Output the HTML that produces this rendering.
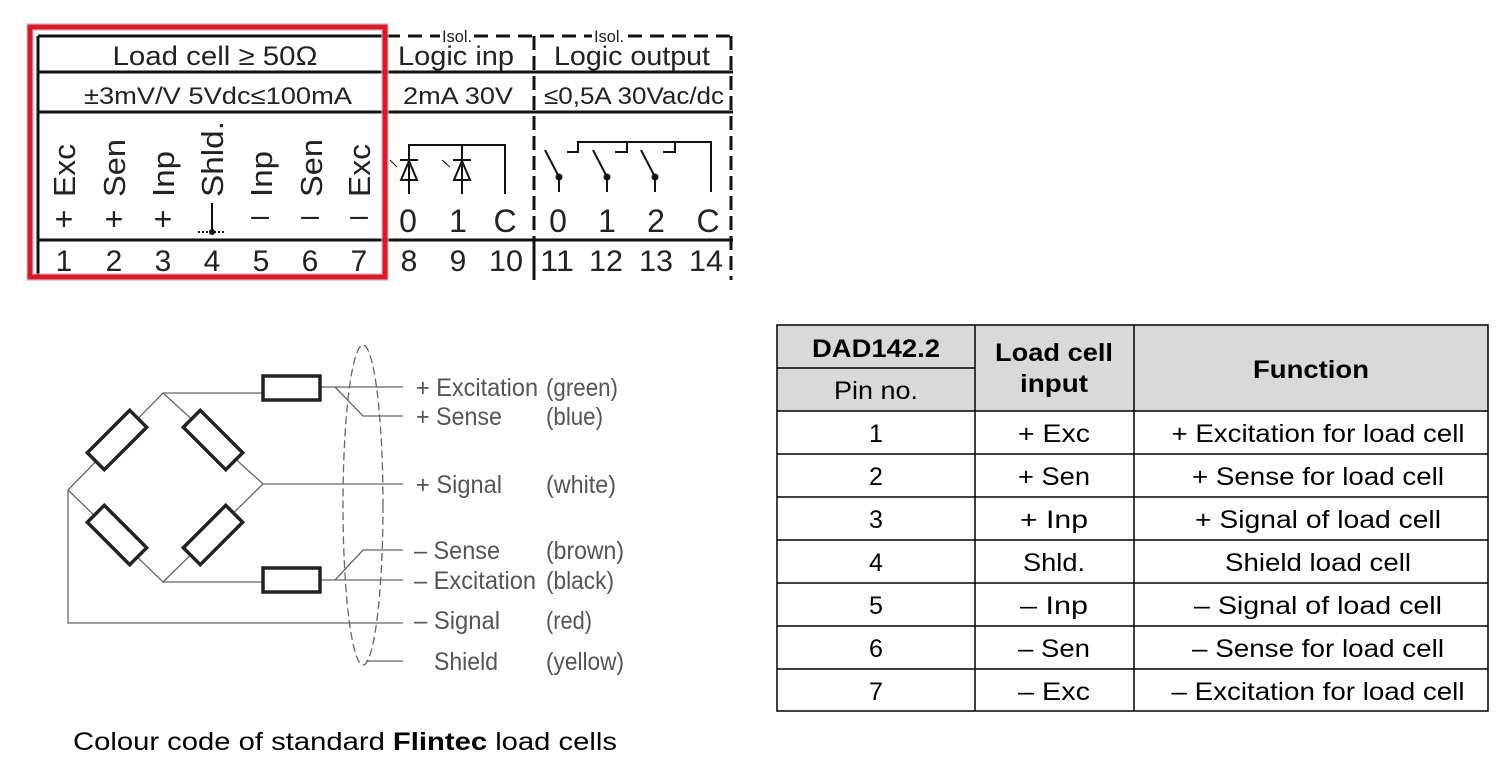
<!DOCTYPE html>
<html><head><meta charset="utf-8"><style>
html,body{margin:0;padding:0;background:#fff;}
svg{display:block}
</style></head><body>
<svg width="1502" height="763" viewBox="0 0 1502 763" xmlns="http://www.w3.org/2000/svg" font-family="Liberation Sans, sans-serif">
<!-- Terminal block -->
<g stroke="#111" fill="none">
  <line x1="38" y1="36" x2="386" y2="36" stroke-width="3"/>
  <line x1="386" y1="36" x2="733" y2="36" stroke-width="3" stroke-dasharray="14,8"/>
  <line x1="38" y1="36" x2="38" y2="278" stroke-width="3"/>
  <line x1="38" y1="72" x2="733" y2="72" stroke-width="3"/>
  <line x1="38" y1="112" x2="733" y2="112" stroke-width="3"/>
  <line x1="38" y1="240" x2="733" y2="240" stroke-width="3"/>
  <line x1="386" y1="36" x2="386" y2="278" stroke-width="2"/>
  <line x1="534" y1="36" x2="534" y2="280" stroke-width="3" stroke-dasharray="14,6"/>
  <line x1="731" y1="36" x2="731" y2="280" stroke-width="3" stroke-dasharray="14,6"/>
  <line x1="534" y1="240" x2="534" y2="280" stroke-width="3"/>
</g>
<rect x="440" y="26" width="34" height="18" fill="#fff"/>
<rect x="592" y="26" width="34" height="18" fill="#fff"/>
<g font-size="27" fill="#222" text-anchor="middle">
  <text x="457" y="42" font-size="17" textLength="30" lengthAdjust="spacingAndGlyphs">Isol.</text>
  <text x="609" y="42" font-size="17" textLength="30" lengthAdjust="spacingAndGlyphs">Isol.</text>
  <text x="215" y="65" textLength="205" lengthAdjust="spacingAndGlyphs">Load cell ≥ 50Ω</text>
  <text x="456" y="65" textLength="116" lengthAdjust="spacingAndGlyphs">Logic inp</text>
  <text x="632" y="65" textLength="156" lengthAdjust="spacingAndGlyphs">Logic output</text>
  <text x="218" y="104" font-size="24" textLength="268" lengthAdjust="spacingAndGlyphs">±3mV/V  5Vdc≤100mA</text>
  <text x="458" y="104" font-size="24" textLength="110" lengthAdjust="spacingAndGlyphs">2mA  30V</text>
  <text x="634" y="104" font-size="24" textLength="180" lengthAdjust="spacingAndGlyphs">≤0,5A 30Vac/dc</text>
</g>
<g font-size="31" fill="#222">
  <text transform="translate(75,197) rotate(-90)" textLength="53" lengthAdjust="spacingAndGlyphs">Exc</text>
  <text transform="translate(125,197) rotate(-90)" textLength="58" lengthAdjust="spacingAndGlyphs">Sen</text>
  <text transform="translate(174,197) rotate(-90)" textLength="46" lengthAdjust="spacingAndGlyphs">Inp</text>
  <text transform="translate(223,197) rotate(-90)" textLength="76" lengthAdjust="spacingAndGlyphs">Shld.</text>
  <text transform="translate(272,197) rotate(-90)" textLength="46" lengthAdjust="spacingAndGlyphs">Inp</text>
  <text transform="translate(322,197) rotate(-90)" textLength="58" lengthAdjust="spacingAndGlyphs">Sen</text>
  <text transform="translate(370,197) rotate(-90)" textLength="53" lengthAdjust="spacingAndGlyphs">Exc</text>
</g>
<g font-size="32" fill="#222" text-anchor="middle">
  <text x="64" y="230">+</text><text x="114" y="230">+</text><text x="163" y="230">+</text>
  <text x="260" y="226">–</text><text x="310" y="226">–</text><text x="359" y="226">–</text>
  <text x="408" y="232">0</text><text x="458" y="232">1</text><text x="505" y="232">C</text>
  <text x="558" y="232">0</text><text x="607" y="232">1</text><text x="656" y="232">2</text><text x="708" y="232">C</text>
</g>
<g stroke="#111" stroke-width="2" fill="none">
  <line x1="212" y1="203" x2="212" y2="232"/>
  <line x1="198" y1="232" x2="226" y2="232" stroke-dasharray="2,2"/>
  <polyline points="409,194 409,145 505,145 505,194"/>
  <line x1="462" y1="145" x2="462" y2="194"/>
  <polygon points="401,180 417,180 409,161"/>
  <line x1="400" y1="160" x2="418" y2="160"/>
  <polygon points="454,180 470,180 462,161"/>
  <line x1="453" y1="160" x2="471" y2="160"/>
  <line x1="390" y1="160" x2="397" y2="167" stroke-width="1"/>
  <line x1="442" y1="160" x2="450" y2="167" stroke-width="1"/>
  <polyline points="567,152 578,152 578,142 711,142 711,192"/>
  <polyline points="615,152 627,152 627,142"/>
  <polyline points="663,152 675,152 675,142"/>
  <line x1="545" y1="150" x2="559" y2="177"/>
  <line x1="559" y1="177" x2="559" y2="192"/>
  <line x1="593" y1="150" x2="607" y2="177"/>
  <line x1="607" y1="177" x2="607" y2="192"/>
  <line x1="641" y1="150" x2="655" y2="177"/>
  <line x1="655" y1="177" x2="655" y2="192"/>
</g>
<g fill="#111"><circle cx="559" cy="177" r="3.5"/><circle cx="607" cy="177" r="3.5"/><circle cx="655" cy="177" r="3.5"/><circle cx="212" cy="232" r="3"/></g>
<g font-size="30" fill="#222" text-anchor="middle">
  <text x="64" y="271">1</text><text x="114" y="271">2</text><text x="163" y="271">3</text><text x="212" y="271">4</text>
  <text x="261" y="271">5</text><text x="310" y="271">6</text><text x="359" y="271">7</text>
  <text x="409" y="271">8</text><text x="458" y="271">9</text><text x="506" y="271" textLength="34" lengthAdjust="spacingAndGlyphs">10</text>
  <text x="557" y="271" textLength="34" lengthAdjust="spacingAndGlyphs">11</text><text x="606" y="271" textLength="34" lengthAdjust="spacingAndGlyphs">12</text><text x="656" y="271" textLength="34" lengthAdjust="spacingAndGlyphs">13</text><text x="706" y="271" textLength="34" lengthAdjust="spacingAndGlyphs">14</text>
</g>
<rect x="30" y="27" width="355" height="250" fill="none" stroke="#9cc0ee" stroke-width="8" opacity="0.6"/>
<rect x="30" y="27" width="355" height="250" fill="none" stroke="#e8141b" stroke-width="5"/>

<!-- Bridge diagram -->
<g stroke="#666" stroke-width="1.3" fill="none">
  <polyline points="68,490 163,393 263,484 163,582 68,490"/>
  <line x1="163" y1="393" x2="262" y2="393"/>
  <line x1="320" y1="387" x2="403" y2="387"/>
  <line x1="163" y1="582" x2="262" y2="582"/>
  <line x1="320" y1="580" x2="403" y2="580"/>
  <polyline points="335,387 363,416 403,416"/>
  <polyline points="335,580 363,550 403,550"/>
  <line x1="263" y1="484" x2="403" y2="484"/>
  <polyline points="68,490 68,623 403,623"/>
  <line x1="366" y1="661" x2="403" y2="661"/>
  <ellipse cx="363" cy="505" rx="20" ry="160" stroke-dasharray="8,4"/>
</g>
<g stroke="#222" stroke-width="3.5" fill="#fff">
  <rect x="263" y="376" width="57" height="24"/>
  <rect x="263" y="568" width="57" height="24"/>
  <rect x="-30" y="-12" width="60" height="24" transform="translate(117,440) rotate(-45)"/>
  <rect x="-30" y="-12" width="60" height="24" transform="translate(213,440) rotate(45)"/>
  <rect x="-30" y="-12" width="60" height="24" transform="translate(117,535) rotate(45)"/>
  <rect x="-30" y="-12" width="60" height="24" transform="translate(213,535) rotate(-45)"/>
</g>
<g font-size="25" fill="#555">
  <text x="416" y="396" textLength="122" lengthAdjust="spacingAndGlyphs">+ Excitation</text><text x="546" y="396" textLength="72" lengthAdjust="spacingAndGlyphs">(green)</text>
  <text x="416" y="425" textLength="86" lengthAdjust="spacingAndGlyphs">+ Sense</text><text x="546" y="425" textLength="57" lengthAdjust="spacingAndGlyphs">(blue)</text>
  <text x="416" y="493" textLength="86" lengthAdjust="spacingAndGlyphs">+ Signal</text><text x="546" y="493" textLength="70" lengthAdjust="spacingAndGlyphs">(white)</text>
  <text x="414" y="559" textLength="86" lengthAdjust="spacingAndGlyphs">– Sense</text><text x="546" y="559" textLength="78" lengthAdjust="spacingAndGlyphs">(brown)</text>
  <text x="414" y="589" textLength="122" lengthAdjust="spacingAndGlyphs">– Excitation</text><text x="546" y="589" textLength="68" lengthAdjust="spacingAndGlyphs">(black)</text>
  <text x="414" y="629" textLength="86" lengthAdjust="spacingAndGlyphs">– Signal</text><text x="546" y="629" textLength="46" lengthAdjust="spacingAndGlyphs">(red)</text>
  <text x="434" y="670" textLength="64" lengthAdjust="spacingAndGlyphs">Shield</text><text x="546" y="670" textLength="78" lengthAdjust="spacingAndGlyphs">(yellow)</text>
</g>
<text x="73" y="750" font-size="25" fill="#000" textLength="544" lengthAdjust="spacingAndGlyphs">Colour code of standard <tspan font-weight="bold">Flintec</tspan> load cells</text>

<!-- Table -->
<rect x="777" y="325" width="711" height="86" fill="#d9d9d9"/>
<g stroke="#000" stroke-width="1.5" fill="none">
  <rect x="777" y="325" width="711" height="386"/>
  <line x1="975" y1="325" x2="975" y2="711"/>
  <line x1="1134" y1="325" x2="1134" y2="711"/>
  <line x1="777" y1="368" x2="975" y2="368"/>
  <line x1="777" y1="411" x2="1488" y2="411"/>
  <line x1="777" y1="454" x2="1488" y2="454"/>
  <line x1="777" y1="497" x2="1488" y2="497"/>
  <line x1="777" y1="540" x2="1488" y2="540"/>
  <line x1="777" y1="583" x2="1488" y2="583"/>
  <line x1="777" y1="626" x2="1488" y2="626"/>
  <line x1="777" y1="669" x2="1488" y2="669"/>
</g>
<g font-size="25" fill="#000" text-anchor="middle">
  <text x="876" y="357" font-weight="bold" textLength="128" lengthAdjust="spacingAndGlyphs">DAD142.2</text>
  <text x="876" y="399" textLength="84" lengthAdjust="spacingAndGlyphs">Pin no.</text>
  <text x="1054" y="361" font-weight="bold" textLength="118" lengthAdjust="spacingAndGlyphs">Load cell</text>
  <text x="1054" y="392" font-weight="bold" textLength="68" lengthAdjust="spacingAndGlyphs">input</text>
  <text x="1311" y="378" font-weight="bold" textLength="116" lengthAdjust="spacingAndGlyphs">Function</text>
  <text x="876" y="442">1</text><text x="1054" y="442" textLength="72" lengthAdjust="spacingAndGlyphs">+ Exc</text><text x="1318" y="442" textLength="293" lengthAdjust="spacingAndGlyphs">+ Excitation for load cell</text>
  <text x="876" y="485">2</text><text x="1054" y="485" textLength="72" lengthAdjust="spacingAndGlyphs">+ Sen</text><text x="1318" y="485" textLength="252" lengthAdjust="spacingAndGlyphs">+ Sense for load cell</text>
  <text x="876" y="528">3</text><text x="1054" y="528" textLength="68" lengthAdjust="spacingAndGlyphs">+ Inp</text><text x="1318" y="528" textLength="246" lengthAdjust="spacingAndGlyphs">+ Signal of load cell</text>
  <text x="876" y="571">4</text><text x="1054" y="571" textLength="62" lengthAdjust="spacingAndGlyphs">Shld.</text><text x="1318" y="571" textLength="186" lengthAdjust="spacingAndGlyphs">Shield load cell</text>
  <text x="876" y="614">5</text><text x="1054" y="614" textLength="68" lengthAdjust="spacingAndGlyphs">– Inp</text><text x="1318" y="614" textLength="248" lengthAdjust="spacingAndGlyphs">– Signal  of load cell</text>
  <text x="876" y="657">6</text><text x="1054" y="657" textLength="72" lengthAdjust="spacingAndGlyphs">– Sen</text><text x="1318" y="657" textLength="252" lengthAdjust="spacingAndGlyphs">– Sense for load cell</text>
  <text x="876" y="700">7</text><text x="1054" y="700" textLength="72" lengthAdjust="spacingAndGlyphs">– Exc</text><text x="1318" y="700" textLength="293" lengthAdjust="spacingAndGlyphs">– Excitation for load cell</text>
</g>
</svg>
</body></html>
